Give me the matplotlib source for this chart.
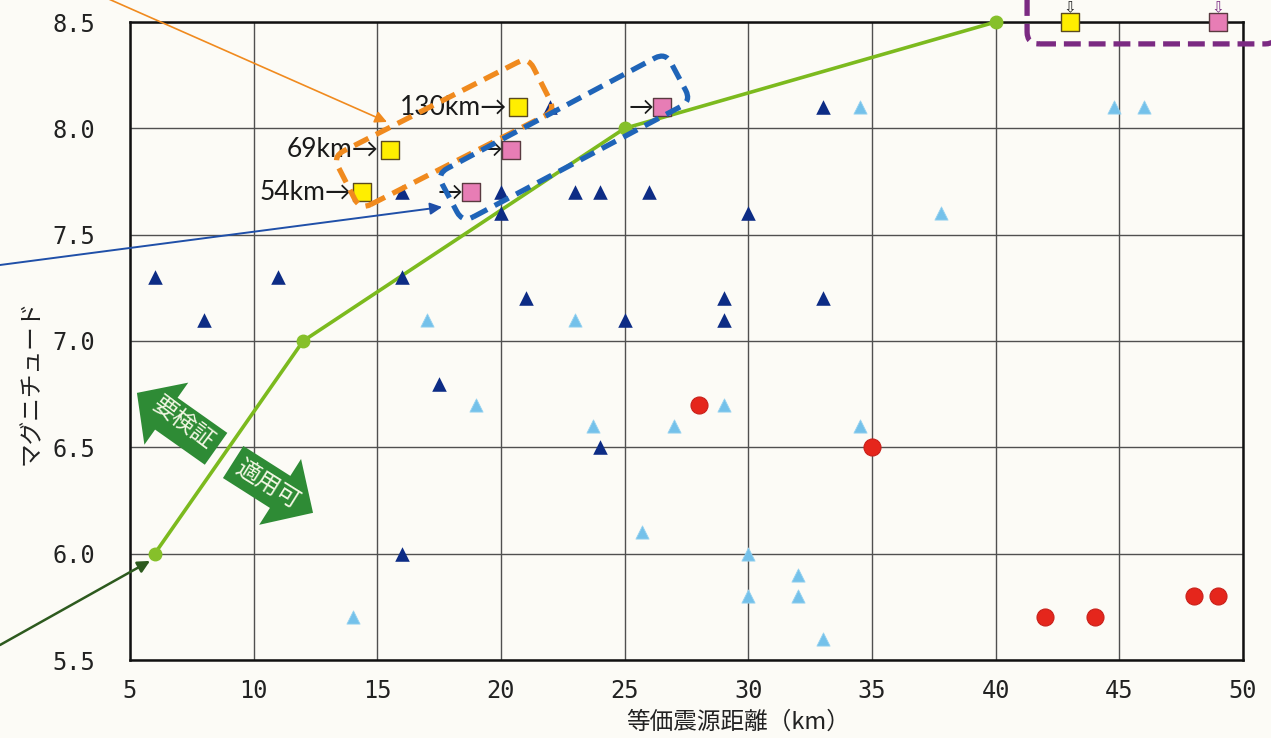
import matplotlib
matplotlib.use("Agg")
import matplotlib.pyplot as plt
from matplotlib.patches import FancyBboxPatch, FancyArrow
from matplotlib.transforms import Affine2D, IdentityTransform

plt.rcParams['font.family'] = ['Noto Sans CJK JP', 'DejaVu Sans']

# ---- data -------------------------------------------------------------
# boundary line (equivalent hypocentral distance km, magnitude)
line_dist = [6, 12, 25, 40]
line_mag = [6.0, 7.0, 8.0, 8.5]

# past events (dark markers)
navy_dist = [6, 8, 11, 16, 16, 16, 17.5, 20, 20, 21, 22, 23, 24, 24, 25, 26,
             29, 29, 30, 33, 33]
navy_mag = [7.3, 7.1, 7.3, 7.3, 7.7, 6.0, 6.8, 7.7, 7.6, 7.2, 8.1, 7.7, 7.7,
            6.5, 7.1, 7.7, 7.2, 7.1, 7.6, 8.1, 7.2]

# past events (light markers)
light_dist = [14, 17, 19, 23, 23.7, 25.7, 27, 29, 30, 30, 32, 32, 33, 34.5,
              34.5, 37.8, 44.8, 46]
light_mag = [5.7, 7.1, 6.7, 7.1, 6.6, 6.1, 6.6, 6.7, 6.0, 5.8, 5.9, 5.8, 5.6,
             8.1, 6.6, 7.6, 8.1, 8.1]

# red circles
red_dist = [28, 35, 42, 44, 48, 49]
red_mag = [6.7, 6.5, 5.7, 5.7, 5.8, 5.8]

# fault cases: original (yellow) and shifted (pink)
yellow_dist = [14.4, 15.5, 20.7, 43]
yellow_mag = [7.7, 7.9, 8.1, 8.5]
yellow_labels = ['54km→', '69km→', '130km→']

pink_dist = [18.8, 20.4, 26.5, 49]
pink_mag = [7.7, 7.9, 8.1, 8.5]

x_ticks = [5, 10, 15, 20, 25, 30, 35, 40, 45, 50]
y_ticks = [5.5, 6.0, 6.5, 7.0, 7.5, 8.0, 8.5]

# ---- figure -----------------------------------------------------------
BG = '#fcfbf6'
W, H = 1271, 738
fig = plt.figure(figsize=(W / 100, H / 100), dpi=100, facecolor=BG)
ax = fig.add_axes([130 / W, 1 - 660 / H, 1113 / W, 638 / H], facecolor=BG)
ax.set_xlim(5, 50)
ax.set_ylim(5.5, 8.5)
ax.set_xticks(x_ticks)
ax.set_yticks(y_ticks)
ax.set_yticklabels([f'{v:.1f}' for v in y_ticks])
ax.grid(True, color='#505050', lw=1.0, zorder=0)
ax.set_axisbelow(True)
for s in ax.spines.values():
    s.set_linewidth(1.8)
    s.set_color('#111111')
ax.tick_params(length=0)
ax.tick_params(axis='y', pad=25)
ax.tick_params(axis='x', pad=14)
for lab in ax.get_xticklabels() + ax.get_yticklabels():
    lab.set_family('DejaVu Sans Mono')
    lab.set_fontsize(17)
    lab.set_color('#222222')

ax.set_xlabel('等価震源距離（km）', fontsize=17, color='#222222')
ax.xaxis.set_label_coords(0.546, -0.080)
ax.set_ylabel('マグニチュード', fontsize=17, color='#222222')
ax.yaxis.set_label_coords(-0.078, 0.436)

# boundary line
ax.plot(line_dist, line_mag, color='#7cba1e', lw=2.6, marker='o', ms=9,
        mfc='#86c02a', mec='#86c02a', zorder=3, clip_on=False)

# events
ax.scatter(light_dist, light_mag, marker='^', s=90, color='#74c1ea',
           edgecolors='#96d2f0', linewidths=0.6, zorder=4, clip_on=False)
ax.scatter(navy_dist, navy_mag, marker='^', s=110, color='#0d2c85',
           linewidths=0, zorder=5, clip_on=False)
ax.scatter(red_dist, red_mag, marker='o', s=150, color='#e5261c',
           edgecolors='#c8201a', linewidths=0.8, zorder=5, clip_on=False)
ax.scatter(yellow_dist, yellow_mag, marker='s', s=150, color='#ffee00',
           edgecolors='#5a4a20', linewidths=1.0, zorder=6, clip_on=False)
ax.scatter(pink_dist, pink_mag, marker='s', s=150, color='#e77db5',
           edgecolors='#5a3a40', linewidths=1.0, zorder=6, clip_on=False)

label_font = ['Lato', 'DejaVu Sans']
for lab, x, y in zip(yellow_labels, yellow_dist, yellow_mag):
    ax.annotate(lab, xy=(x, y), xytext=(-8, 0), textcoords='offset points',
                ha='right', va='center', fontsize=19, family=label_font,
                color='#1a1a1a', zorder=7)
for x, y in zip(pink_dist[:3], pink_mag[:3]):
    ax.annotate('→', xy=(x, y), xytext=(-6, 0), textcoords='offset points',
                ha='right', va='center', fontsize=18, family=label_font,
                color='#1a1a1a', zorder=7)
ax.annotate('⇩', xy=(yellow_dist[3], yellow_mag[3]), xytext=(0, 5),
            textcoords='offset points', ha='center', va='bottom', fontsize=11,
            family=['DejaVu Sans'], color='#222222', annotation_clip=False)
ax.annotate('⇩', xy=(pink_dist[3], pink_mag[3]), xytext=(0, 5),
            textcoords='offset points', ha='center', va='bottom', fontsize=11,
            family=['DejaVu Sans'], color='#7b2a82', annotation_clip=False)


def disp(x, y):
    return ax.transData.transform((x, y))


def dashed_box(cx, cy, length, width, angle, color, dash=(3, 1.6), rs=12):
    px, py = disp(cx, cy)
    tr = Affine2D().rotate_deg_around(px, py, angle)
    box = FancyBboxPatch((px - length / 2, py - width / 2), length, width,
                         boxstyle=f'round,pad=0,rounding_size={rs}',
                         transform=tr, fill=False, edgecolor=color, lw=3.8,
                         linestyle=(0, dash), zorder=8, clip_on=False)
    ax.add_artist(box)


# grouped cases
dashed_box(17.70, 7.976, 219, 60, 27, '#f08a1e')
dashed_box(22.55, 7.957, 259, 55, 28, '#1f64b8')
# top-right group running off the frame
px0, py0 = disp(41.27, 8.397)
purple = FancyBboxPatch((px0, py0), 250, 90,
                        boxstyle='round,pad=0,rounding_size=12',
                        transform=IdentityTransform(), fill=False,
                        edgecolor='#7b2a82', lw=3.8, linestyle=(0, (3.2, 1.5)),
                        zorder=8, clip_on=False)
ax.add_artist(purple)

# leader lines from outside the frame
for target, start, col, lw in [((15.39, 8.03), (0, 787), '#f08a1e', 1.2),
                               ((17.62, 7.63), (0, 473), '#1f4fa8', 1.4),
                               ((5.81, 5.966), (0, 93), '#2d5a1e', 1.8)]:
    ax.annotate('', xy=target, xycoords='data', xytext=start,
                textcoords='figure pixels', annotation_clip=False,
                arrowprops=dict(arrowstyle='-|>', color=col, lw=lw,
                                mutation_scale=18, shrinkA=0, shrinkB=0),
                zorder=9)


def block_arrow(tail, tip, shaft_w, head_w, head_l, color):
    tx, ty = disp(*tail)
    hx, hy = disp(*tip)
    arr = FancyArrow(tx, ty, hx - tx, hy - ty, width=shaft_w,
                     head_width=head_w, head_length=head_l,
                     length_includes_head=True, transform=IdentityTransform(),
                     color=color, lw=0, zorder=9, clip_on=False)
    ax.add_artist(arr)


block_arrow((8.48, 6.493), (5.28, 6.756), 39, 76, 36, '#2e8b35')
block_arrow((9.17, 6.431), (12.40, 6.192), 38, 78, 39, '#2e8b35')
ax.text(7.18, 6.615, '要検証', rotation=-37, rotation_mode='anchor',
        ha='center', va='center', fontsize=17, color='#f3f7e4', zorder=10)
ax.text(10.54, 6.323, '適用可', rotation=-32, rotation_mode='anchor',
        ha='center', va='center', fontsize=17, color='#f3f7e4', zorder=10)

fig.savefig('out.png', dpi=100, facecolor=BG)
